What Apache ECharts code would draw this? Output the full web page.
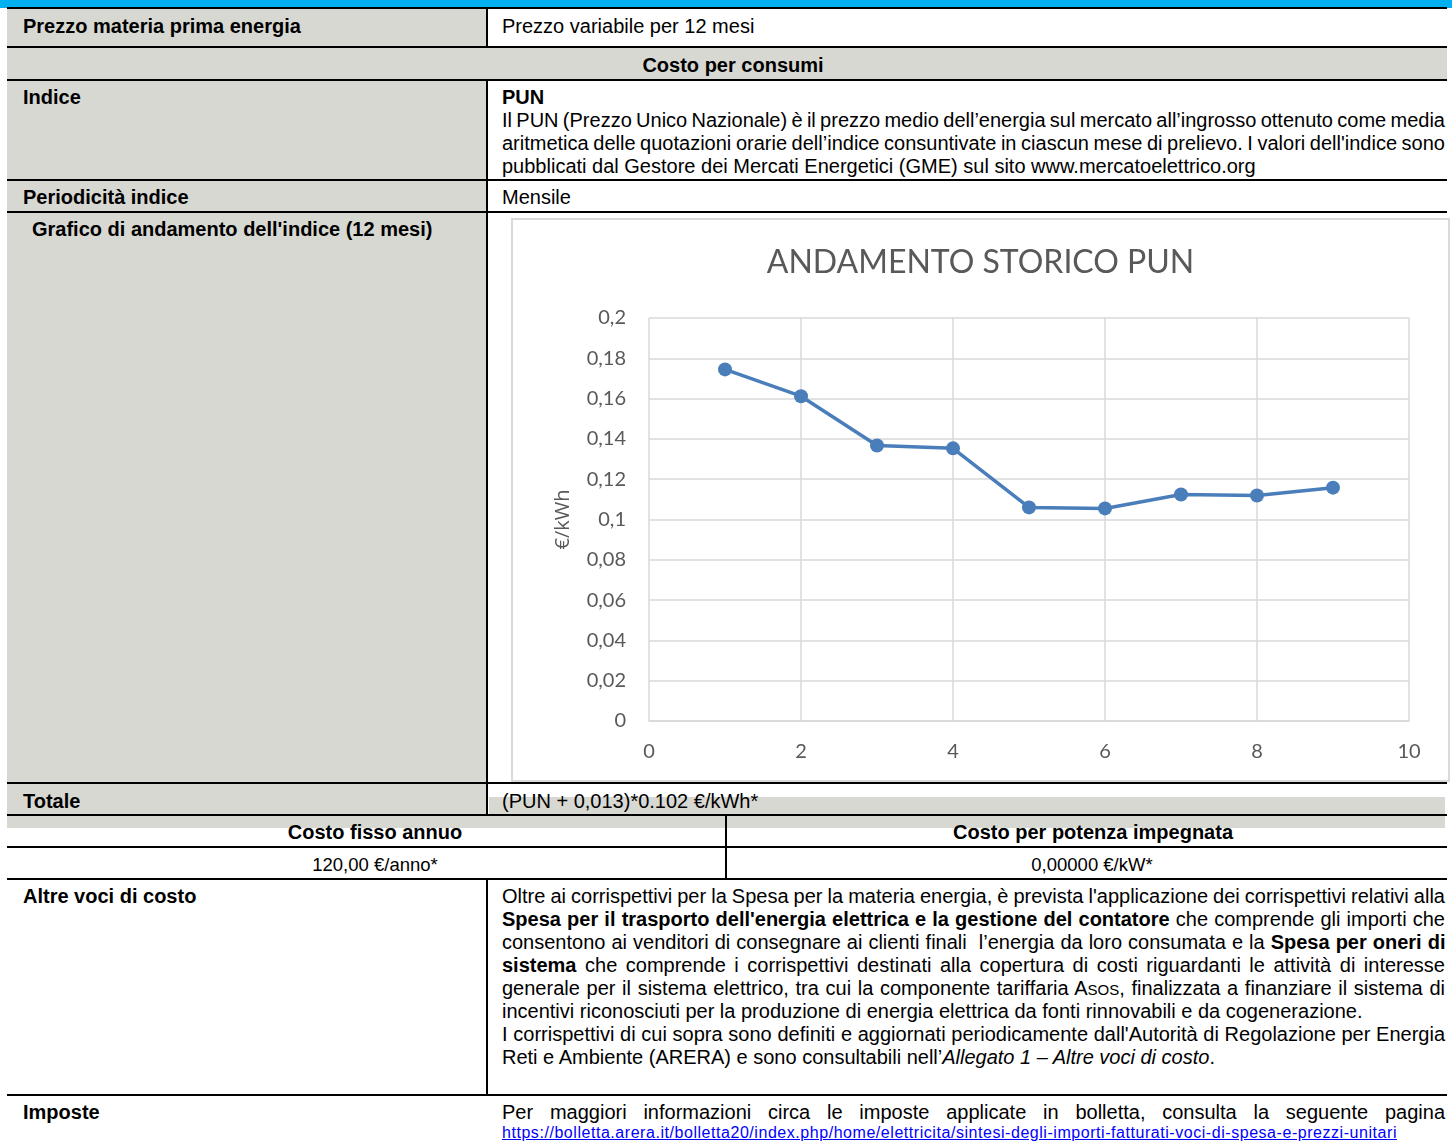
<!DOCTYPE html>
<html><head><meta charset="utf-8">
<script src="https://cdn.jsdelivr.net/npm/echarts@6/dist/echarts.min.js"></script>
<style>
html,body{margin:0;padding:0;background:#fff;}
body{width:1455px;height:1142px;overflow:hidden;position:relative;font-family:"Liberation Sans",Arial,sans-serif;font-size:20px;color:#000;}
.a{position:absolute;}
.g{position:absolute;background:#d8d8d3;}
.hl{position:absolute;left:7px;width:1440px;height:2px;background:#000;}
.vl{position:absolute;width:2px;background:#000;}
.t{position:absolute;line-height:23px;white-space:nowrap;}
.b{font-weight:bold;}
.j{width:943px;}
.j>span{display:inline-block;}
</style></head><body>
<!-- backgrounds -->
<div class="a" style="left:0;top:0;width:1452px;height:8px;background:#00b0f0"></div>
<div class="g" style="left:7px;top:9px;width:480px;height:38px"></div>
<div class="g" style="left:7px;top:48px;width:1440px;height:32px"></div>
<div class="g" style="left:7px;top:81px;width:480px;height:99px"></div>
<div class="g" style="left:7px;top:181px;width:480px;height:31px"></div>
<div class="g" style="left:7px;top:213px;width:480px;height:570px"></div>
<div class="g" style="left:7px;top:784px;width:480px;height:31px"></div>
<div class="g" style="left:489px;top:797px;width:956px;height:18px"></div>
<div class="g" style="left:7px;top:816px;width:1438px;height:12px"></div>
<!-- lines -->
<div class="hl" style="top:7px"></div>
<div class="hl" style="top:46px"></div>
<div class="hl" style="top:79px"></div>
<div class="hl" style="top:179px"></div>
<div class="hl" style="top:211px"></div>
<div class="hl" style="top:782px"></div>
<div class="hl" style="top:814px"></div>
<div class="hl" style="top:846px"></div>
<div class="hl" style="top:878px"></div>
<div class="hl" style="top:1094px"></div>
<div class="vl" style="left:486px;top:8px;height:39px"></div>
<div class="vl" style="left:486px;top:80px;height:735px"></div>
<div class="vl" style="left:725px;top:815px;height:64px"></div>
<div class="vl" style="left:486px;top:879px;height:216px"></div>

<!-- texts -->
<div class="t b" style="left:23px;top:15px">Prezzo materia prima energia</div>
<div class="t" style="left:502px;top:15px">Prezzo variabile per 12 mesi</div>
<div class="t b" style="left:433px;top:54px;width:600px;text-align:center">Costo per consumi</div>
<div class="t b" style="left:23px;top:86px">Indice</div>
<div class="t b" style="left:502px;top:86px">PUN</div>
<div class="t j" style="left:502px;top:109px"><span>Il PUN (Prezzo Unico Nazionale) è il prezzo medio dell’energia sul mercato all’ingrosso ottenuto come media</span></div>
<div class="t j" style="left:502px;top:132px"><span>aritmetica delle quotazioni orarie dell’indice consuntivate in ciascun mese di prelievo. I valori dell'indice sono</span></div>
<div class="t" style="left:502px;top:155px">pubblicati dal Gestore dei Mercati Energetici (GME) sul sito www.mercatoelettrico.org</div>
<div class="t b" style="left:23px;top:186px">Periodicità indice</div>
<div class="t" style="left:502px;top:186px">Mensile</div>
<div class="t b" style="left:32px;top:218px">Grafico di andamento dell'indice (12 mesi)</div>

<div class="a" style="left:511px;top:218px;width:935px;height:560px;border:2px solid #d9d9d9;background:#fff"></div>
<div id="chart" class="a" style="left:511px;top:218px;width:939px;height:564px"></div>

<div class="t b" style="left:23px;top:790px">Totale</div>
<div class="t" style="left:502px;top:790px">(PUN + 0,013)*0.102 €/kWh*</div>
<div class="t b" style="left:75px;top:821px;width:600px;text-align:center">Costo fisso annuo</div>
<div class="t b" style="left:793px;top:821px;width:600px;text-align:center">Costo per potenza impegnata</div>
<div class="t" style="left:75px;top:853px;width:600px;text-align:center;font-size:18.5px">120,00 €/anno*</div>
<div class="t" style="left:792px;top:853px;width:600px;text-align:center;font-size:18.5px">0,00000 €/kW*</div>

<div class="t b" style="left:23px;top:885px">Altre voci di costo</div>
<div class="t j" style="left:502px;top:885px"><span>Oltre ai corrispettivi per la Spesa per la materia energia, è prevista l'applicazione dei corrispettivi relativi alla</span></div>
<div class="t j" style="left:502px;top:908px"><span><b>Spesa per il trasporto dell'energia elettrica e la gestione del contatore</b> che comprende gli importi che</span></div>
<div class="t j" style="left:502px;top:931px"><span>consentono ai venditori di consegnare ai clienti finali &nbsp;l’energia da loro consumata e la <b>Spesa per oneri di</b></span></div>
<div class="t j" style="left:502px;top:954px"><span><b>sistema</b> che comprende i corrispettivi destinati alla copertura di costi riguardanti le attività di interesse</span></div>
<div class="t j" style="left:502px;top:977px"><span>generale per il sistema elettrico, tra cui la componente tariffaria A<span style="font-size:15px">SOS</span>, finalizzata a finanziare il sistema di</span></div>
<div class="t" style="left:502px;top:1000px">incentivi riconosciuti per la produzione di energia elettrica da fonti rinnovabili e da cogenerazione.</div>
<div class="t j" style="left:502px;top:1023px"><span>I corrispettivi di cui sopra sono definiti e aggiornati periodicamente dall'Autorità di Regolazione per Energia</span></div>
<div class="t" style="left:502px;top:1046px">Reti e Ambiente (ARERA) e sono consultabili nell’<i>Allegato 1 – Altre voci di costo</i>.</div>

<div class="t b" style="left:23px;top:1101px">Imposte</div>
<div class="t j" style="left:502px;top:1101px"><span>Per maggiori informazioni circa le imposte applicate in bolletta, consulta la seguente pagina</span></div>
<div class="t" id="lnk" style="left:502px;top:1123px;font-size:16px;line-height:20px;color:#0000ff;text-decoration:underline">https://bolletta.arera.it/bolletta20/index.php/home/elettricita/sintesi-degli-importi-fatturati-voci-di-spesa-e-prezzi-unitari</div>

<script>
// ---- data ----
const monthIndex = [1, 2, 3, 4, 5, 6, 7, 8, 9];
const punValues = [0.1745, 0.1612, 0.1367, 0.1353, 0.1060, 0.1055, 0.1124, 0.1119, 0.1158];
const chartTitle = 'ANDAMENTO STORICO PUN';
const yAxisName = '€/kWh';
const yTicks = { min: 0, max: 0.2, step: 0.02 };
const xTicks = { min: 0, max: 10, step: 2 };

// justify lines
document.querySelectorAll('.j').forEach(el => {
  const sp = el.firstElementChild;
  const natural = sp.getBoundingClientRect().width;
  const spaces = (sp.textContent.trim().match(/\s+/g) || []).length;
  if (spaces) sp.style.wordSpacing = ((943 - natural) / spaces) + 'px';
});
(function(){
  const l = document.getElementById('lnk');
  const w = l.getBoundingClientRect().width;
  const n = l.textContent.length;
  l.style.letterSpacing = ((895 - w) / n) + 'px';
})();

const chart = echarts.init(document.getElementById('chart'));
const fmt = v => String(+v.toFixed(2)).replace('.', ',');
chart.setOption({
  animation: false,
  title: {
    text: chartTitle, left: 'center', top: 24,
    textStyle: { fontFamily: 'Lato', fontWeight: 'normal', fontSize: 32, color: '#595959' }
  },
  grid: { left: 138, right: 41, top: 100, bottom: 61 },
  xAxis: {
    type: 'value', min: xTicks.min, max: xTicks.max, interval: xTicks.step,
    axisLine: { show: true, lineStyle: { color: '#d9d9d9', width: 1.5 } },
    axisTick: { show: false },
    splitLine: { show: true, lineStyle: { color: '#d9d9d9', width: 1.5 } },
    axisLabel: { color: '#595959', fontFamily: 'Lato', fontSize: 20, margin: 21 }
  },
  yAxis: {
    type: 'value', min: yTicks.min, max: yTicks.max, interval: yTicks.step,
    name: yAxisName, nameLocation: 'middle', nameGap: 76, nameRotate: 90,
    nameTextStyle: { color: '#595959', fontFamily: 'Open Sans', fontSize: 20 },
    axisLine: { show: false },
    axisTick: { show: false },
    splitLine: { show: true, lineStyle: { color: '#d9d9d9', width: 1.5 } },
    axisLabel: { color: '#595959', fontFamily: 'Lato', fontSize: 20, margin: 23, formatter: fmt }
  },
  series: [{
    type: 'line',
    data: monthIndex.map((m, i) => [m, punValues[i]]),
    symbol: 'circle', symbolSize: 14,
    lineStyle: { color: '#4a7ebb', width: 3.5 },
    itemStyle: { color: '#4a7ebb' }
  }]
});
</script>
</body></html>
